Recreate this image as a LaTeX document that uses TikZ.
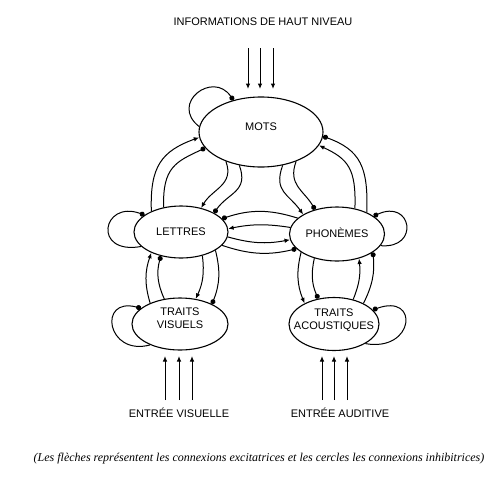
\documentclass[tikz,border=0pt]{standalone}
\usepackage{fontspec}
\setmainfont{Liberation Serif}
\setsansfont{Liberation Sans}
\usetikzlibrary{shapes.geometric,arrows.meta}
\newcommand\lvltext[2]{\makebox[0pt]{\raisebox{#1}[0pt][0pt]{#2}}}
\begin{document}
\begin{tikzpicture}[x=1pt,y=1pt,
  lvl/.style={draw, ellipse, line width=1.1pt, inner sep=0pt,
    font=\sffamily\fontsize{11pt}{12.3pt}\selectfont},
  con/.style={line width=1pt},
  exc/.style={con, -{Latex[length=5.5pt,width=4.5pt]}},
  inh/.style={con, -{Circle[length=5pt]}},
  lab/.style={font=\sffamily\fontsize{11pt}{13pt}\selectfont, inner sep=0pt}
]
\useasboundingbox (0,0) rectangle (500,-480);
% levels
\node[lvl, minimum width=124pt, minimum height=70pt] (mots) at (261,-132) {\lvltext{1.1pt}{MOTS}};
\node[lvl, minimum width=94pt, minimum height=52pt] (let) at (181,-232) {\lvltext{-3.9pt}{LETTRES}};
\node[lvl, minimum width=95pt, minimum height=54pt] (pho) at (337,-234) {\lvltext{-3pt}{PHONÈMES}};
\node[lvl, minimum width=96pt, minimum height=52pt] (tv) at (180,-324) {\lvltext{1.7pt}{\begin{tabular}{@{}c@{}}TRAITS\\VISUELS\end{tabular}}};
\node[lvl, minimum width=90pt, minimum height=53pt] (ta) at (334,-324) {\lvltext{0.8pt}{\begin{tabular}{@{}c@{}}TRAITS\\ACOUSTIQUES\end{tabular}}};
% labels
\node[lab] (info) at (263,-22) {INFORMATIONS DE HAUT NIVEAU};
\node[lab] (ev) at (179,-413) {ENTRÉE VISUELLE};
\node[lab] (ea) at (340,-413) {ENTRÉE AUDITIVE};
\node[font=\itshape\fontsize{12pt}{14pt}\selectfont, inner sep=0pt] (cap) at (259,-459) {(Les flèches représentent les connexions excitatrices et les cercles les connexions inhibitrices)};
% input arrows
\foreach \x [count=\i] in {248,260,273}{
  \coordinate (ts\i) at (\x,-48); \coordinate (te\i) at (\x,-89);
  \draw[exc] (ts\i) -- (te\i);}
\foreach \x [count=\i] in {165,179,192}{
  \coordinate (vs\i) at (\x,-400); \coordinate (ve\i) at (\x,-356);
  \draw[exc] (vs\i) -- (ve\i);}
\foreach \x [count=\i] in {322,334,347}{
  \coordinate (as\i) at (\x,-400); \coordinate (ae\i) at (\x,-356);
  \draw[exc] (as\i) -- (ae\i);}
% self loops (inhibitory)
\draw[inh] (mots.175) .. controls +(142:38) and +(124:36) .. (mots.131);
\draw[inh] (let.200) .. controls +(190:50) and +(160:45) .. (let.155);
\draw[inh] (pho.345) .. controls +(-5:40) and +(25:42) .. (pho.26);
\draw[inh] (tv.215) .. controls +(195:45) and +(165:45) .. (tv.158);
\draw[inh] (ta.328) .. controls +(-10:50) and +(20:50) .. (ta.20);
% LETTRES -> MOTS
\draw[exc] (let.145) .. controls +(92:45) and +(200:40) .. (mots.185);
\draw[inh] (let.125) .. controls +(92:40) and +(205:32) .. (mots.196);
% MOTS -> LETTRES
\draw[exc] (mots.220) .. controls +(290:25) and +(60:22) .. (let.50);
\draw[inh] (mots.237) .. controls +(290:28) and +(55:25) .. (let.30);
% MOTS -> PHONEMES
\draw[inh] (mots.320) .. controls +(250:25) and +(120:22) .. (pho.132);
\draw[exc] (mots.303) .. controls +(250:28) and +(125:25) .. (pho.150);
% PHONEMES -> MOTS
\draw[inh] (pho.36) .. controls +(88:45) and +(340:40) .. (mots.356);
\draw[exc] (pho.55) .. controls +(88:40) and +(335:32) .. (mots.347);
% LETTRES <-> PHONEMES
\draw[inh] (pho.158) to[bend right=18] (let.18);
\draw[exc] (pho.172) to[bend right=10] (let.4);
\draw[exc] (let.354) to[bend right=13] (pho.187);
\draw[inh] (let.342) to[bend right=16] (pho.200);
% LETTRES <-> TRAITS VISUELS
\draw[exc] (tv.145) to[bend left=18] (let.215);
\draw[inh] (tv.122) to[bend left=20] (let.230);
\draw[exc] (let.312) to[bend left=16] (tv.58);
\draw[inh] (let.332) to[bend left=18] (tv.32);
% PHONEMES <-> TRAITS ACOUSTIQUES
\draw[exc] (pho.207) to[bend right=18] (ta.145);
\draw[inh] (pho.227) to[bend right=18] (ta.122);
\draw[exc] (ta.52) to[bend right=14] (pho.312);
\draw[inh] (ta.35) to[bend right=16] (pho.333);
\end{tikzpicture}
\end{document}
